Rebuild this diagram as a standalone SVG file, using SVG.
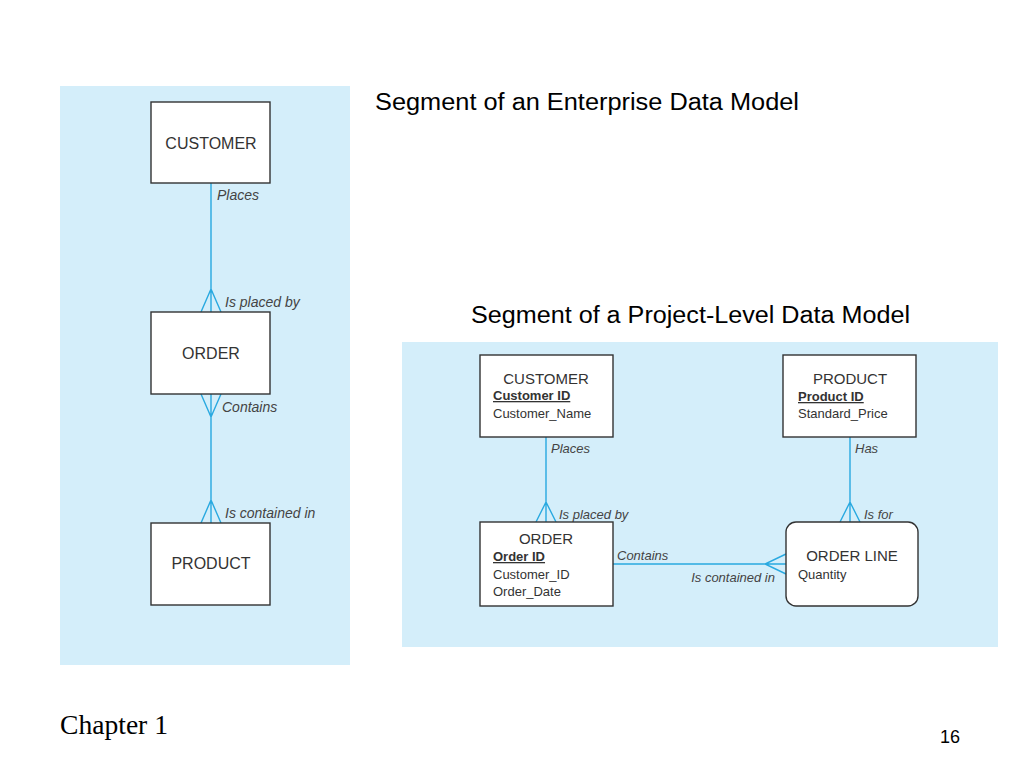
<svg xmlns="http://www.w3.org/2000/svg" width="1024" height="768" viewBox="0 0 1024 768">
<style>
.panel{fill:#d4eefa}
.box{fill:#fff;stroke:#333;stroke-width:1.4}
.ln{fill:none;stroke:#29a9e0;stroke-width:1.4}
.t{font-family:"Liberation Sans",Arial,sans-serif;fill:#333}
.big{font-size:16px;text-anchor:middle}
.hd{font-size:15px;text-anchor:middle}
.at{font-size:13px}
.pk{font-size:13px;font-weight:bold;text-decoration:underline}
.lbl{font-family:"Liberation Sans",Arial,sans-serif;fill:#444;font-style:italic;font-size:13px}
.lbl2{font-family:"Liberation Sans",Arial,sans-serif;fill:#444;font-style:italic;font-size:14px}
.title{font-family:"Liberation Sans",Tahoma,sans-serif;font-size:23px;fill:#000}
</style>
<rect class="panel" x="60" y="86" width="290" height="579"/>
<rect class="panel" x="402" y="342" width="596" height="305"/>
<text class="title" x="375" y="110" textLength="424" lengthAdjust="spacingAndGlyphs">Segment of an Enterprise Data Model</text>
<text class="title" x="471" y="323" textLength="439" lengthAdjust="spacingAndGlyphs">Segment of a Project-Level Data Model</text>
<g id="connectors">
<path class="ln" d="M211 183V312M201 312L211 289L221 312M211 289V312"/>
<path class="ln" d="M211 394V523M201 394L211 417L221 394M201 523L211 500L221 523"/>
<path class="ln" d="M546 437V522M536 522L546 502L556 522"/>
<path class="ln" d="M850 437V522M840 522L850 502L860 522"/>
<path class="ln" d="M613 564H786M786 554L765 564L786 574"/>
<text class="lbl2" x="217" y="200">Places</text>
<text class="lbl2" x="225" y="307">Is placed by</text>
<text class="lbl2" x="222" y="412">Contains</text>
<text class="lbl2" x="225" y="518">Is contained in</text>
<text class="lbl" x="551" y="453">Places</text>
<text class="lbl" x="559" y="519">Is placed by</text>
<text class="lbl" x="855" y="453">Has</text>
<text class="lbl" x="864" y="519">Is for</text>
<text class="lbl" x="617" y="560">Contains</text>
<text class="lbl" x="775" y="582" text-anchor="end">Is contained in</text>
</g>
<g id="e-customer">
<rect class="box" x="151" y="102" width="119" height="81"/>
<text class="t big" x="211" y="149">CUSTOMER</text>
</g>
<g id="e-order">
<rect class="box" x="151" y="312" width="119" height="82"/>
<text class="t big" x="211" y="359">ORDER</text>
</g>
<g id="e-product">
<rect class="box" x="151" y="523" width="119" height="82"/>
<text class="t big" x="211" y="569">PRODUCT</text>
</g>
<g id="p-customer">
<rect class="box" x="480" y="355" width="133" height="82"/>
<text class="t hd" x="546" y="384">CUSTOMER</text>
<text class="t pk" x="493" y="400">Customer ID</text>
<text class="t at" x="493" y="418">Customer_Name</text>
</g>
<g id="p-product">
<rect class="box" x="783" y="355" width="133" height="82"/>
<text class="t hd" x="850" y="384">PRODUCT</text>
<text class="t pk" x="798" y="401">Product ID</text>
<text class="t at" x="798" y="418">Standard_Price</text>
</g>
<g id="p-order">
<rect class="box" x="480" y="522" width="133" height="84"/>
<text class="t hd" x="546" y="544">ORDER</text>
<text class="t pk" x="493" y="561">Order ID</text>
<text class="t at" x="493" y="579">Customer_ID</text>
<text class="t at" x="493" y="596">Order_Date</text>
</g>
<g id="p-orderline">
<rect class="box" x="786" y="522" width="132" height="84" rx="10"/>
<text class="t hd" x="852" y="561">ORDER LINE</text>
<text class="t at" x="798" y="579">Quantity</text>
</g>
<text x="60" y="734" font-family="'Liberation Serif','Times New Roman',serif" font-size="27" textLength="108" lengthAdjust="spacingAndGlyphs" fill="#000">Chapter 1</text>
<text x="940" y="743" font-family="'Liberation Sans',Arial,sans-serif" font-size="18" fill="#000">16</text>
</svg>
